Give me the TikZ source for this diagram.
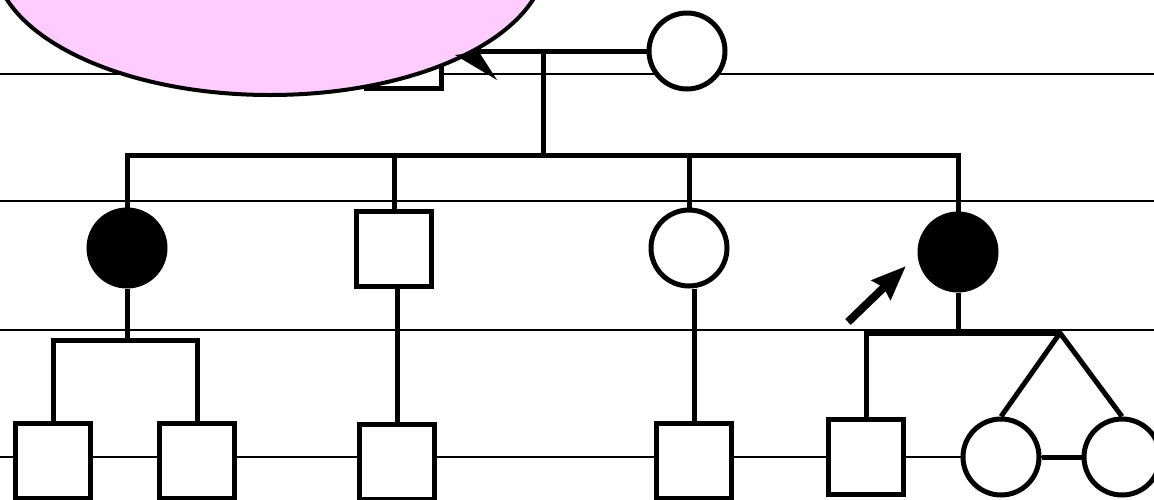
\documentclass[tikz,border=0pt]{standalone}
\usetikzlibrary{shapes.geometric, arrows, arrows.meta, calc}
\definecolor{halopink}{RGB}{255,204,255}
\tikzstyle{male} = [rectangle, minimum size=75pt, inner sep=0pt, draw=black, line width=5pt, fill=white]
\tikzstyle{female} = [circle, minimum size=76pt, inner sep=0pt, draw=black, line width=5pt, fill=white]
\tikzstyle{affected} = [female, fill=black]
\tikzstyle{kin} = [line width=5pt]
\tikzstyle{genline} = [line width=1.6pt]
\tikzstyle{arrow} = [line width=8pt, -{Stealth[length=34pt, width=26pt, inset=3pt]}]

\begin{document}
\begin{tikzpicture}[x=1pt, y=-1pt, node distance=213pt]
\useasboundingbox (0,0) rectangle (1154,499);
\clip (0,0) rectangle (1154,499);

\foreach \y in {74,201,330,457}
  \draw [genline] (0,\y) -- (1154,\y);

\node (I1) [male] at (404,51) {};
\node (I2) [female] at (687,51) {};

\node (II1) [affected] at (127,248) {};
\node (II2) [male] at (394,249) {};
\node (II3) [female] at (689,248) {};
\node (II4) [affected] at (958,252) {};

\node (III1) [male, below of=II1, xshift=-74pt] {};
\node (III2) [male, below of=II1, xshift=70pt] {};
\node (III3) [male, below of=II2, xshift=3pt] {};
\node (III4) [male, below of=II3, xshift=5pt] {};
\node (III5) [male, below of=II4, xshift=-92pt, yshift=8pt] {};
\node (III6) [female, right of=III5, xshift=-78pt] {};
\node (III7) [female, right of=III6, xshift=-92pt] {};

\coordinate (m1) at ($(I1.east)!0.49!(I2.west)$);
\coordinate (sib1) at (0,155);
\coordinate (sib2) at (0,340);
\coordinate (sib3) at (0,333);
\coordinate (twin) at (1060,333);

\draw [kin] (I1.east) -- (I2.west);
\draw [kin] (m1) -- (m1 |- sib1);
\draw [kin] (II1.north) -- (II1.north |- sib1) -- (II4.north |- sib1) -- (II4.north);
\draw [kin] (II2.north) -- (II2.north |- sib1);
\draw [kin] (II3.north) -- (II3.north |- sib1);

\draw [kin] (II1.south) -- (II1.south |- sib2);
\draw [kin] (III1.north) -- (III1.north |- sib2) -- (III2.north |- sib2) -- (III2.north);
\draw [kin] (III3.north |- II2.south) -- (III3.north);
\draw [kin] (III4.north |- II3.south) -- (III4.north);

\draw [kin] (II4.south) -- (II4.south |- sib3);
\draw [kin] (III5.north) -- (III5.north |- sib3) -- (twin);
\draw [kin] (III6.north) -- (twin) -- (III7.north);
\draw [kin] (III6.east) -- (III7.west);

% the shaded group
\node (halo) [ellipse, draw=black, line width=4pt, fill=halopink, minimum width=552pt, minimum height=274pt] at (270,-42) {};
\fill (455,55) -- (479,52) -- (497,80) -- cycle;

\coordinate (ptail) at (848,322);
\coordinate (ptip) at (906,266);
\draw [arrow] (ptail) -- (ptip);

\end{tikzpicture}
\end{document}
